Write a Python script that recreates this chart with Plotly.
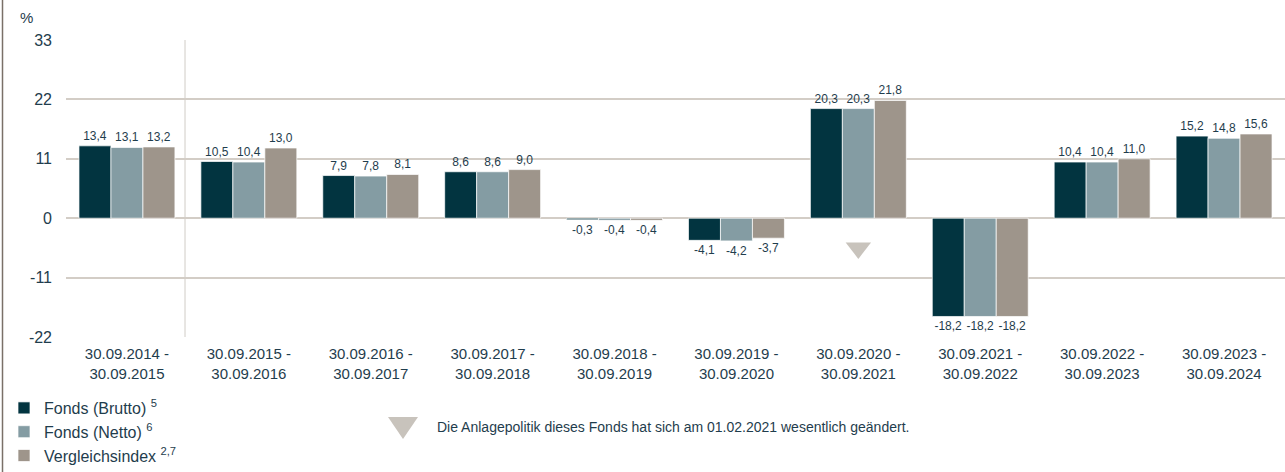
import plotly.graph_objects as go

categories = ["30.09.2014 -<br>30.09.2015", "30.09.2015 -<br>30.09.2016", "30.09.2016 -<br>30.09.2017",
              "30.09.2017 -<br>30.09.2018", "30.09.2018 -<br>30.09.2019", "30.09.2019 -<br>30.09.2020",
              "30.09.2020 -<br>30.09.2021", "30.09.2021 -<br>30.09.2022", "30.09.2022 -<br>30.09.2023",
              "30.09.2023 -<br>30.09.2024"]
brutto = [13.4, 10.5, 7.9, 8.6, -0.3, -4.1, 20.3, -18.2, 10.4, 15.2]
netto = [13.1, 10.4, 7.8, 8.6, -0.4, -4.2, 20.3, -18.2, 10.4, 14.8]
index = [13.2, 13.0, 8.1, 9.0, -0.4, -3.7, 21.8, -18.2, 11.0, 15.6]
series_names = ["Fonds (Brutto) <sup>5</sup>", "Fonds (Netto) <sup>6</sup>", "Vergleichsindex <sup>2,7</sup>"]
colors = ["#023440", "#849ca3", "#9e958b"]
y_ticks = [-22, -11, 0, 11, 22, 33]
marker_cat = categories[6]
marker_val = -5.5
note = "Die Anlagepolitik dieses Fonds hat sich am 01.02.2021 wesentlich geändert."

TXT = "#1f3d4d"
FONT = "Liberation Sans, Arial, sans-serif"

fig = go.Figure()
for name, vals, col in zip(series_names, [brutto, netto, index], colors):
    fig.add_trace(go.Bar(
        x=categories, y=vals, name=name,
        marker=dict(color=col, line=dict(color="white", width=0.7)),
        text=[f"{v:.1f}".replace(".", ",") for v in vals],
        textposition="outside", cliponaxis=False,
        textfont=dict(size=12, color=TXT, family=FONT),
        hoverinfo="skip",
    ))

fig.add_trace(go.Scatter(
    x=[marker_cat], y=[marker_val], mode="markers", showlegend=False,
    marker=dict(symbol="triangle-down", size=22, color="#c8c3bc"), hoverinfo="skip",
))

L, B, T = 66, 135, 40
W, H = 1285, 472
PW = W - L
PH = H - T - B

def px(x):
    return (x - L) / PW

def py(y):
    return (H - B - y) / PH

shapes = [
    dict(type="line", xref="paper", yref="paper", x0=px(2.5), x1=px(2.5), y0=py(H), y1=py(0),
         line=dict(color="#7a7068", width=1.5)),
    dict(type="line", xref="paper", yref="y", x0=px(185), x1=px(185), y0=-22, y1=33,
         line=dict(color="#d0ccc6", width=1), layer="below"),
    dict(type="path", xref="paper", yref="paper",
         path=f"M {px(388)} {py(417)} L {px(418)} {py(417)} L {px(403)} {py(439)} Z",
         fillcolor="#c8c3bc", line=dict(width=0)),
]

annotations = [
    dict(text="%", xref="paper", yref="paper", x=px(26), y=py(17), showarrow=False,
         font=dict(size=15, color=TXT, family=FONT), xanchor="center", yanchor="middle"),
    dict(text=note, xref="paper", yref="paper", x=px(435), y=py(427), showarrow=False,
         font=dict(size=14, color=TXT, family=FONT), xanchor="left", yanchor="middle"),
]

fig.update_layout(
    width=W, height=H,
    margin=dict(l=L, r=0, t=T, b=B, autoexpand=False),
    paper_bgcolor="white", plot_bgcolor="white",
    barmode="group", bargap=0.213, bargroupgap=0,
    font=dict(family=FONT, color=TXT, size=16),
    showlegend=True,
    legend=dict(x=px(4), y=py(391), xanchor="left", yanchor="top", orientation="v",
                font=dict(size=16, color=TXT, family=FONT), tracegroupgap=0,
                bgcolor="rgba(0,0,0,0)", itemwidth=30),
    xaxis=dict(showgrid=False, ticks="", tickfont=dict(size=15, color=TXT), showline=False,
               zeroline=False, ticklabelstandoff=6),
    yaxis=dict(range=[-22, 33], tickvals=y_ticks, ticktext=[str(v) for v in y_ticks],
               showgrid=True, gridcolor="#d3cdc6", gridwidth=1.8,
               zeroline=True, zerolinecolor="#d3cdc6", zerolinewidth=1.8,
               tickfont=dict(size=16, color=TXT), ticks="", ticklabelstandoff=13, showline=False),
    shapes=shapes, annotations=annotations,
)

fig.write_html("out.html", config={"displayModeBar": False},
               post_script="document.body.style.margin='0px';")
